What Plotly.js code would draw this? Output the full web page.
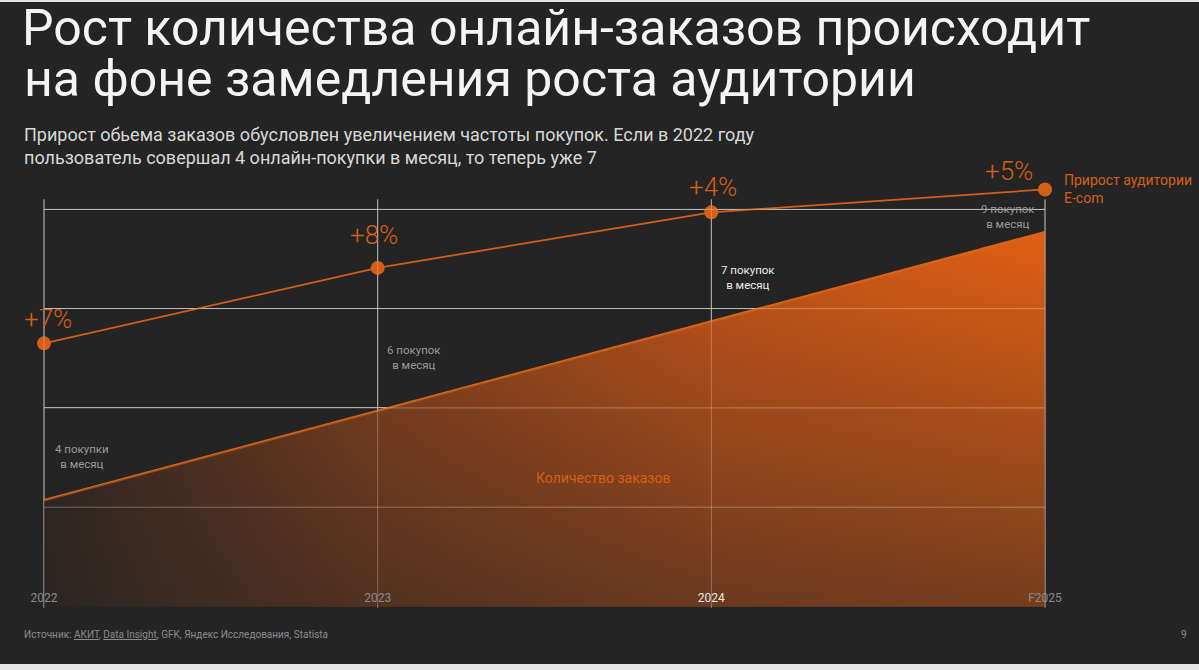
<!DOCTYPE html>
<html><head><meta charset="utf-8">
<script src="https://cdn.plot.ly/plotly-3.0.1.min.js"></script>
<style>
html,body{margin:0;padding:0;background:#e4e4e4;overflow:hidden;width:1199px;height:670px}
#chart{position:absolute;left:0;top:2px;width:1199px;height:662px}
</style>
</head><body><div id="chart"></div>
<script>
// ---- data (index values) ----
const years = ['2022', '2023', '2024', 'F2025'];
const yearColors = ['#8a8a8a', '#8a8a8a', '#e8e8e8', '#8a8a8a'];
const audienceIndex = [2.65, 3.41, 3.97, 4.20];
const audienceLabels = ['+7%', '+8%', '+4%', '+5%'];
const ordersIndex = [1.07, 1.97, 2.87, 3.77];
const freqLabels = ['4 покупки<br>в месяц', '6 покупок<br>в месяц', '7 покупок<br>в месяц', '9 покупок<br>в месяц'];
const freqColors = ['#9a9a9a', '#9a9a9a', '#ececec', '#9a9a9a'];
const gridLevels = [1, 2, 3, 4];
const titleLine1 = 'Рост количества онлайн-заказов происходит';
const titleLine2 = 'на фоне замедления роста аудитории';
const subtitle = 'Прирост обьема заказов обусловлен увеличением частоты покупок. Если в 2022 году<br>пользователь совершал 4 онлайн-покупки в месяц, то теперь уже 7';
const source = 'Источник: <u>АКИТ</u>, <u>Data Insight</u>, GFK, Яндекс Исследования, Statista';
const audienceName = 'Прирост аудитории<br>E-com';
const ordersName = 'Количество заказов';
const pageNo = '9';

const ORANGE = '#d45f16';
const FONT = 'Roboto, "Noto Sans", sans-serif';
const TITLE_SIZE = 50;

const traces = [
  {
    x: years, y: ordersIndex, type: 'scatter', mode: 'lines',
    line: {color: '#dc6418', width: 2.5},
    fill: 'tozeroy',
    fillgradient: {type: 'horizontal', colorscale: [
      [0, 'rgb(50,38,32)'], [0.33, 'rgb(140,66,28)'],
      [0.67, 'rgb(196,84,24)'], [1, 'rgb(220,94,20)']]},
    hoverinfo: 'skip'
  },
  {
    x: years, y: ordersIndex, type: 'scatter', mode: 'none',
    fill: 'tozeroy',
    fillgradient: {type: 'vertical', start: 0, stop: 3.6, colorscale: [
      [0, 'rgba(36,36,36,0.56)'], [1, 'rgba(36,36,36,0)']]},
    hoverinfo: 'skip'
  },
  {
    x: years, y: audienceIndex, type: 'scatter', mode: 'lines+markers',
    line: {color: ORANGE, width: 1.8},
    marker: {color: ORANGE, size: 14},
    cliponaxis: false, hoverinfo: 'skip'
  }
];

const pctShiftX = [4, -4, 2, -36];
const pctShiftY = [24, 33, 25, 18];
const freqPosY = [1.506, 2.503, 3.318, 3.932];
const freqShiftX = [38, 36, 37, -37];

const annotations = [];
years.forEach((yr, i) => {
  annotations.push({x: i, y: audienceIndex[i], xref: 'x', yref: 'y', text: audienceLabels[i],
    showarrow: false, xanchor: 'center', yanchor: 'middle', xshift: pctShiftX[i], yshift: pctShiftY[i],
    font: {family: FONT, size: 26, color: ORANGE, weight: 300}});
  annotations.push({x: i, y: freqPosY[i], xref: 'x', yref: 'y', text: freqLabels[i],
    showarrow: false, xanchor: 'center', yanchor: 'middle', xshift: freqShiftX[i], align: 'center',
    font: {family: FONT, size: 11.5, color: freqColors[i]}});
});
annotations.push({x: 3, y: audienceIndex[3], xref: 'x', yref: 'y', text: audienceName, showarrow: false,
  xanchor: 'left', yanchor: 'middle', xshift: 17, align: 'left',
  font: {family: FONT, size: 14, color: ORANGE}});
annotations.push({x: 1.675, y: 1.294, xref: 'x', yref: 'y', text: ordersName, showarrow: false,
  xanchor: 'center', yanchor: 'middle', font: {family: FONT, size: 14, color: ORANGE}});
annotations.push({x: -0.022, y: 1.206, xref: 'paper', yref: 'paper', text: titleLine2, showarrow: false,
  xanchor: 'left', yanchor: 'middle', font: {family: FONT, size: TITLE_SIZE, color: '#f4f4f4'}});
annotations.push({x: -0.022, y: 1.0554, xref: 'paper', yref: 'paper', text: subtitle, showarrow: false,
  xanchor: 'left', yanchor: 'middle', align: 'left', font: {family: FONT, size: 18, color: '#d8d8d8'}});
annotations.push({x: -0.022, y: -0.052, xref: 'paper', yref: 'paper', text: source, showarrow: false,
  xanchor: 'left', yanchor: 'middle', font: {family: FONT, size: 10, color: '#8c8c8c'}});
annotations.push({x: 1.139, y: -0.052, xref: 'paper', yref: 'paper', text: pageNo, showarrow: false,
  xanchor: 'center', yanchor: 'middle', font: {family: FONT, size: 10, color: '#8c8c8c'}});

// grid: a grey line beneath the traces plus a faint light line above them,
// so the grid shows through the orange area like in the original
const shapes = [];
years.forEach((yr, i) => {
  const px = i / (years.length - 1);
  shapes.push({type: 'line', xref: 'paper', yref: 'y', x0: px, x1: px, y0: -0.01, y1: 4.1,
    line: {color: '#9e9e9e', width: 1}, layer: 'below'});
  shapes.push({type: 'line', xref: 'paper', yref: 'y', x0: px, x1: px, y0: -0.01, y1: 4.1,
    line: {color: 'rgba(255,255,255,0.28)', width: 1}, layer: 'above'});
});
gridLevels.forEach(v => {
  shapes.push({type: 'line', xref: 'paper', yref: 'y', x0: 0, x1: 1, y0: v, y1: v,
    line: {color: 'rgba(255,255,255,0.3)', width: 1}, layer: 'above'});
});

const layout = {
  width: 1199, height: 662,
  paper_bgcolor: '#242424', plot_bgcolor: 'rgba(0,0,0,0)',
  margin: {l: 44, r: 154, t: 168, b: 52},
  showlegend: false,
  title: {text: titleLine1, xref: 'container', yref: 'container', x: 22 / 1199, xanchor: 'left',
    y: 1 - 8 / 662, yanchor: 'top', pad: {t: 0, l: 0},
    font: {family: FONT, size: TITLE_SIZE, color: '#f4f4f4'}},
  xaxis: {type: 'category', range: [0, 3], showgrid: false, zeroline: false, showline: false,
    ticks: '', tickvals: years,
    ticktext: years.map((y, i) => '<span style="color:' + yearColors[i] + '">' + y + '</span>'),
    ticklabelposition: 'inside', ticklabeloverflow: 'allow', ticklabelstandoff: 5,
    tickfont: {family: FONT, size: 12, color: '#8a8a8a'}, fixedrange: true},
  yaxis: {range: [-0.0554, 4.396], tickvals: gridLevels, showticklabels: false, showgrid: true,
    gridcolor: '#9e9e9e', gridwidth: 1, zeroline: false, showline: false, fixedrange: true},
  annotations: annotations,
  shapes: shapes
};

Plotly.newPlot('chart', traces, layout, {displayModeBar: false, staticPlot: true});
</script></body></html>
